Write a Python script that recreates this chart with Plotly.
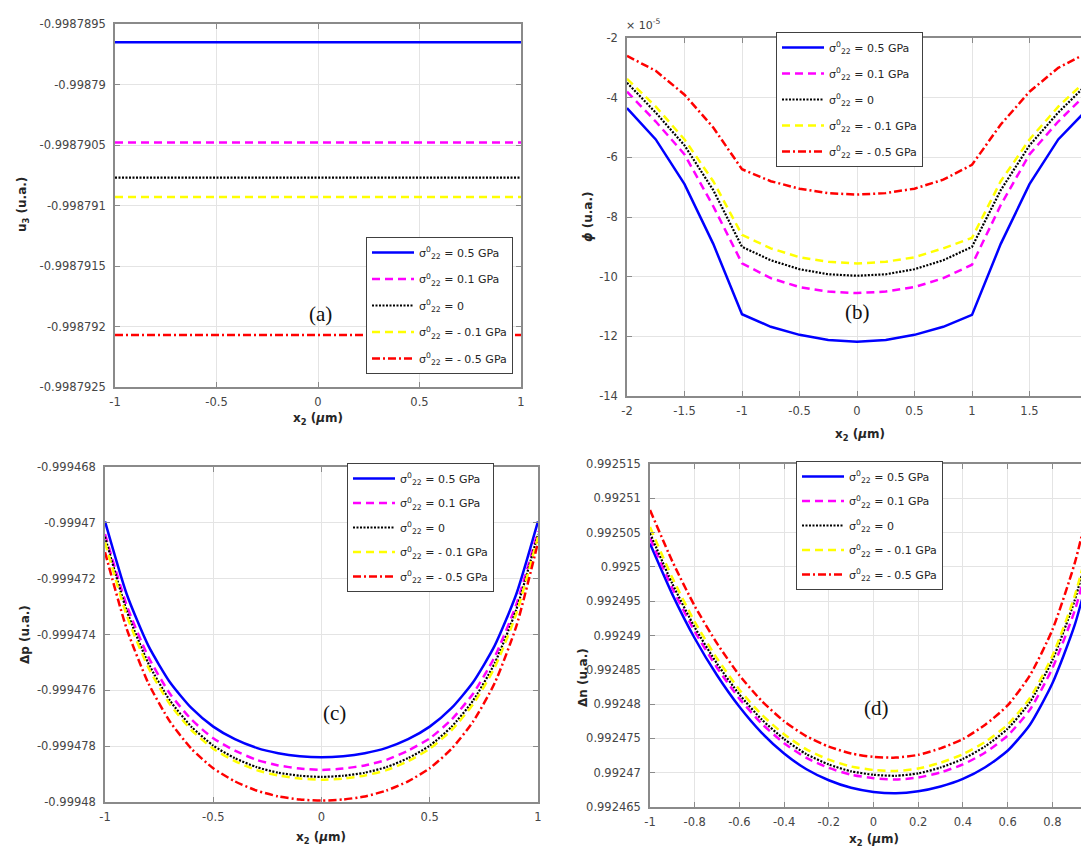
import plotly.graph_objects as go

W, H = 1089, 847

# ---------------- data ----------------
legend_labels = ["= 0.5 GPa", "= 0.1 GPa", "= 0", "= - 0.1 GPa", "= - 0.5 GPa"]

# (a) u3 vs x2
a_x = [-1, 1]
u3_s05 = [-0.99878965, -0.99878965]
u3_s01 = [-0.99879048, -0.99879048]
u3_s0 = [-0.99879077, -0.99879077]
u3_sm01 = [-0.99879093, -0.99879093]
u3_sm05 = [-0.99879207, -0.99879207]

# (b) phi (x 1e-5) vs x2
b_x = [-2, -1.75, -1.5, -1.25, -1, -0.75, -0.5, -0.25, 0, 0.25, 0.5, 0.75, 1, 1.25, 1.5, 1.75, 2]
phi_s05 = [-4.35, -5.4, -6.9, -8.9, -11.26, -11.68, -11.95, -12.12, -12.18, -12.12, -11.95, -11.68, -11.28, -8.9, -6.9, -5.4, -4.4]
phi_s01 = [-3.8, -4.8, -5.9, -7.64, -9.55, -10.05, -10.35, -10.5, -10.55, -10.5, -10.35, -10.05, -9.6, -7.6, -5.9, -4.8, -3.85]
phi_s0 = [-3.5, -4.5, -5.6, -7.1, -9.0, -9.45, -9.75, -9.92, -9.97, -9.92, -9.75, -9.45, -9.0, -7.1, -5.6, -4.5, -3.55]
phi_sm01 = [-3.37, -4.3, -5.4, -6.8, -8.6, -9.05, -9.35, -9.5, -9.56, -9.5, -9.35, -9.05, -8.7, -6.8, -5.4, -4.3, -3.4]
phi_sm05 = [-2.6, -3.1, -3.9, -5.0, -6.4, -6.8, -7.05, -7.2, -7.25, -7.2, -7.05, -6.75, -6.25, -4.9, -3.8, -3.0, -2.5]

# (c) delta p vs x2
c_x = [-1, -0.9, -0.8, -0.7, -0.6, -0.5, -0.4, -0.3, -0.2, -0.1, 0,
       0.1, 0.2, 0.3, 0.4, 0.5, 0.6, 0.7, 0.8, 0.9, 1]
dp_s05 = [-0.99946995, -0.99947255, -0.9994744, -0.99947571, -0.99947664, -0.9994773, -0.99947775,
          -0.99947806, -0.99947825, -0.99947836, -0.9994784, -0.99947836, -0.99947825, -0.99947806,
          -0.99947775, -0.9994773, -0.99947664, -0.99947571, -0.9994744, -0.99947255, -0.99946995]
dp_s01 = [-0.9994704, -0.99947295, -0.9994748, -0.99947612, -0.99947705, -0.99947772, -0.99947816,
          -0.99947849, -0.99947869, -0.9994788, -0.99947885, -0.9994788, -0.99947869, -0.99947849,
          -0.99947816, -0.99947772, -0.99947705, -0.99947612, -0.9994748, -0.99947292, -0.9994703]
dp_s0 = [-0.9994705, -0.99947314, -0.99947503, -0.99947637, -0.99947731, -0.99947798, -0.99947843,
         -0.99947875, -0.99947895, -0.99947906, -0.9994791, -0.99947906, -0.99947895, -0.99947875,
         -0.99947843, -0.99947798, -0.99947731, -0.99947637, -0.99947503, -0.99947310, -0.9994704]
dp_sm01 = [-0.9994707, -0.99947331, -0.99947518, -0.9994765, -0.99947743, -0.99947809, -0.99947854,
           -0.99947886, -0.99947905, -0.99947916, -0.9994792, -0.99947916, -0.99947905, -0.99947886,
           -0.99947854, -0.99947809, -0.99947743, -0.9994765, -0.99947518, -0.99947325, -0.9994705]
dp_sm05 = [-0.99947105, -0.99947379, -0.99947574, -0.99947712, -0.9994781, -0.99947879, -0.99947926,
           -0.99947959, -0.9994798, -0.99947991, -0.99947995, -0.99947991, -0.9994798, -0.99947959,
           -0.99947926, -0.99947879, -0.9994781, -0.99947712, -0.99947574, -0.9994737, -0.9994707]

# (d) delta n vs x2
d_x = c_x
dn_s05 = [0.9925034, 0.992496, 0.9924896, 0.9924842, 0.9924796, 0.9924758, 0.9924728, 0.9924705,
          0.9924689, 0.9924678, 0.9924672, 0.992467, 0.9924673, 0.992468, 0.9924691, 0.9924708,
          0.9924732, 0.992477, 0.992483, 0.9924915, 0.9925036]
dn_s01 = [0.9925042, 0.9924969, 0.9924906, 0.9924853, 0.9924808, 0.99247715, 0.9924743, 0.99247215,
          0.9924707, 0.9924697, 0.9924692, 0.992469, 0.9924693, 0.99247005, 0.9924712, 0.99247295,
          0.9924754, 0.9924792, 0.9924852, 0.9924936, 0.9925056]
dn_s0 = [0.9925049, 0.99249755, 0.9924912, 0.9924859, 0.9924814, 0.99247775, 0.9924749, 0.9924727,
         0.9924712, 0.9924702, 0.9924697, 0.99246955, 0.9924699, 0.99247075, 0.992472, 0.99247385,
         0.9924764, 0.9924803, 0.9924864, 0.9924951, 0.9925074]
dn_sm01 = [0.9925058, 0.9924984, 0.992492, 0.99248665, 0.9924821, 0.99247845, 0.9924756, 0.9924734,
           0.9924719, 0.9924709, 0.9924704, 0.99247025, 0.9924706, 0.99247145, 0.9924727, 0.9924745,
           0.992477, 0.9924809, 0.992487, 0.99249575, 0.9925081]
dn_sm05 = [0.9925083, 0.9925008, 0.9924943, 0.99248885, 0.9924842, 0.99248045, 0.9924775, 0.9924753,
           0.9924738, 0.9924728, 0.9924723, 0.9924722, 0.9924726, 0.99247355, 0.9924749, 0.992477,
           0.9924798, 0.9924842, 0.9924908, 0.9925005, 0.992514]

# tick labels
a_yticks = [-0.9987895, -0.99879, -0.9987905, -0.998791, -0.9987915, -0.998792, -0.9987925]
a_yticktext = ["-0.9987895", "-0.99879", "-0.9987905", "-0.998791", "-0.9987915", "-0.998792", "-0.9987925"]
b_yticks = [-2, -4, -6, -8, -10, -12, -14]
c_yticks = [-0.999468, -0.99947, -0.999472, -0.999474, -0.999476, -0.999478, -0.99948]
c_yticktext = ["-0.999468", "-0.99947", "-0.999472", "-0.999474", "-0.999476", "-0.999478", "-0.99948"]
d_yticks = [0.992515, 0.99251, 0.992505, 0.9925, 0.992495, 0.99249, 0.992485, 0.99248, 0.992475, 0.99247, 0.992465]
d_yticktext = ["0.992515", "0.99251", "0.992505", "0.9925", "0.992495", "0.99249", "0.992485",
               "0.99248", "0.992475", "0.99247", "0.992465"]
x1_ticks = [-1, -0.5, 0, 0.5, 1]
x1_ticktext = ["-1", "-0.5", "0", "0.5", "1"]
b_xticks = [-2, -1.5, -1, -0.5, 0, 0.5, 1, 1.5, 2]
b_xticktext = ["-2", "-1.5", "-1", "-0.5", "0", "0.5", "1", "1.5", "2"]
d_xticks = [-1, -0.8, -0.6, -0.4, -0.2, 0, 0.2, 0.4, 0.6, 0.8, 1]
d_xticktext = ["-1", "-0.8", "-0.6", "-0.4", "-0.2", "0", "0.2", "0.4", "0.6", "0.8", "1"]

# ---------------- styles ----------------
colors = ["#0000ff", "#ff00ff", "#000000", "#ffff00", "#ff0000"]
dashes = ["solid", "8px,5px", "2px,1.5px", "8px,5px", "8px,3px,2px,3px"]
widths = [2.5, 2.5, 2.2, 2.5, 2.5]
TICKFONT = dict(family="DejaVu Sans", size=11.5, color="#454545")
LEGFONT = dict(family="DejaVu Sans", size=11, color="#262626")
AX = "#8a8a8a"


def px(x):
    return x / W


def py(y):
    return 1 - y / H


fig = go.Figure()

panels = [
    ("x", "y", "legend", a_x, [u3_s05, u3_s01, u3_s0, u3_sm01, u3_sm05], "linear"),
    ("x2", "y2", "legend2", b_x, [phi_s05, phi_s01, phi_s0, phi_sm01, phi_sm05], "linear"),
    ("x3", "y3", "legend3", c_x, [dp_s05, dp_s01, dp_s0, dp_sm01, dp_sm05], "spline"),
    ("x4", "y4", "legend4", d_x, [dn_s05, dn_s01, dn_s0, dn_sm01, dn_sm05], "spline"),
]
for pi, (xa, ya, lg, xs, series, shape) in enumerate(panels):
    for i, ys in enumerate(series):
        fig.add_trace(go.Scatter(
            x=xs, y=ys, xaxis=xa, yaxis=ya, mode="lines",
            line=dict(color=colors[i], dash=dashes[i], width=widths[i], shape=shape, smoothing=0.6),
            name="σ<sup>0</sup><sub>22</sub> " + legend_labels[i],
            legend=lg, legendgroup=f"p{pi}s{i}", showlegend=True,
        ))


def xaxis(domain, rng, tv, tt, anchor):
    return dict(domain=domain, range=rng, tickvals=tv, ticktext=tt, anchor=anchor,
                showline=True, linecolor=AX, linewidth=1.5, mirror="ticks",
                ticks="inside", ticklen=5, tickcolor=AX, tickwidth=1,
                showgrid=True, gridcolor="#e4e4e4", gridwidth=1, zeroline=False,
                tickfont=TICKFONT, automargin=False, fixedrange=True,
                ticklabeloverflow="allow", ticklabelstandoff=3)


def yaxis(domain, rng, tv, tt, anchor, mirror="ticks"):
    return dict(domain=domain, range=rng, tickvals=tv, ticktext=tt, anchor=anchor,
                showline=True, linecolor=AX, linewidth=1.5, mirror=mirror,
                ticks="inside", ticklen=5, tickcolor=AX, tickwidth=1,
                showgrid=True, gridcolor="#e4e4e4", gridwidth=1, zeroline=False,
                tickfont=TICKFONT, automargin=False, fixedrange=True,
                ticklabeloverflow="allow", ticklabelstandoff=5)


fig.update_layout(
    width=W, height=H, margin=dict(l=0, r=0, t=0, b=0),
    paper_bgcolor="white", plot_bgcolor="white", template="none",
    xaxis=xaxis([px(107), px(513)], [-1, 1], x1_ticks, x1_ticktext, "y"),
    yaxis=yaxis([py(379), py(16)], [-0.9987925, -0.9987895], a_yticks, a_yticktext, "x"),
    xaxis2=xaxis([px(619), px(1079)], [-2, 2], b_xticks, b_xticktext, "y2"),
    yaxis2=yaxis([py(388), py(30)], [-14, -2], b_yticks, [str(v) for v in b_yticks], "x2"),
    xaxis3=xaxis([px(97), px(530)], [-1, 1], x1_ticks, x1_ticktext, "y3"),
    yaxis3=yaxis([py(794), py(459)], [-0.99948, -0.999468], c_yticks, c_yticktext, "x3"),
    xaxis4=xaxis([px(642), 1.0], [-1, 1], d_xticks, d_xticktext, "y4"),
    yaxis4=yaxis([py(799), py(456)], [0.992465, 0.992515], d_yticks, d_yticktext, "x4", mirror=False),
)

leg_common = dict(bgcolor="white", bordercolor="#404040", borderwidth=1, font=LEGFONT,
                  xanchor="left", yanchor="top", traceorder="grouped", itemwidth=42)
fig.update_layout(
    legend=dict(x=px(358), y=py(229), tracegroupgap=7.5, **leg_common),
    legend2=dict(x=px(768), y=py(24), tracegroupgap=7, **leg_common),
    legend3=dict(x=px(339), y=py(455), tracegroupgap=5.5, **leg_common),
    legend4=dict(x=px(788), y=py(453), tracegroupgap=5.5, **leg_common),
)

TITLEFONT = dict(family="DejaVu Sans", size=12, color="#262626")
ann = []
# axis titles
for (x, y, t, ang) in [
    (15, 197, "<b>u<sub>3</sub> (u.a.)</b>", -90),
    (310, 411, "<b>x<sub>2</sub> (<i>μ</i>m)</b>", 0),
    (580, 209, "<b><i>ϕ</i> (u.a.)</b>", -90),
    (852, 427, "<b>x<sub>2</sub> (<i>μ</i>m)</b>", 0),
    (17, 627, "<b>Δp (u.a.)</b>", -90),
    (313, 830, "<b>x<sub>2</sub> (<i>μ</i>m)</b>", 0),
    (575, 670, "<b>Δn (u.a.)</b>", -90),
    (866, 832, "<b>x<sub>2</sub> (<i>μ</i>m)</b>", 0),
]:
    ann.append(dict(x=px(x), y=py(y), xref="paper", yref="paper", text=t, showarrow=False,
                    textangle=ang, font=TITLEFONT, xanchor="center", yanchor="middle"))
# exponent
ann.append(dict(x=px(616), y=py(17), xref="paper", yref="paper", text="× 10<sup>-5</sup>",
                showarrow=False, font=dict(family="DejaVu Sans", size=11, color="#404040"),
                xanchor="left", yanchor="middle"))
# panel labels
PLFONT = dict(family="Liberation Serif", size=21, color="#111111")
for (xr, yr, x, y, t) in [
    ("x", "y", 0.01, -0.9987919, "(a)"),
    ("x2", "y2", 0.0, -11.2, "(b)"),
    ("x3", "y3", 0.06, -0.9994768, "(c)"),
    ("x4", "y4", 0.013, 0.9924795, "(d)"),
]:
    ann.append(dict(x=x, y=y, xref=xr, yref=yr, text=t, showarrow=False, font=PLFONT,
                    xanchor="center", yanchor="middle"))
fig.update_layout(annotations=ann)

fig.write_html("out.html")
